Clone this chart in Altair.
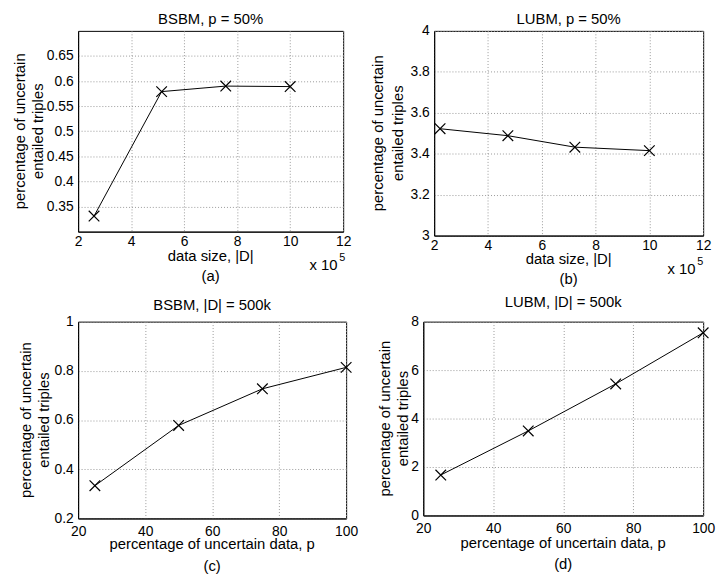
import altair as alt
import pandas as pd

# Panel (a): BSBM, p = 50%  (data size in units of 10^5)
a_x = [2.6, 5.15, 7.57, 10.0]
a_y = [0.331, 0.579, 0.590, 0.589]
# Panel (b): LUBM, p = 50%
b_x = [2.22, 4.74, 7.23, 10.0]
b_y = [3.522, 3.488, 3.432, 3.415]
# Panel (c): BSBM, |D| = 500k
c_x = [25, 50, 75, 100]
c_y = [0.333, 0.578, 0.727, 0.814]
# Panel (d): LUBM, |D| = 500k
d_x = [25, 50, 75, 100]
d_y = [1.67, 3.49, 5.43, 7.54]

FONT = "Liberation Sans"
YTITLE = ["percentage of uncertain", "entailed triples"]
XSHAPE = "M-1,-1L1,1M-1,1L1,-1"
GRID = dict(grid=True, gridColor="#9a9a9a", gridDash=[1, 2], gridWidth=1)
AX = dict(labelFont=FONT, labelFontSize=14, labelColor="black",
          domainColor="black", domainWidth=1, ticks=False,
          labelOverlap=False, format="~f", title="", **GRID)


def txt(s, x, y, size=15, angle=0, align="center"):
    return alt.Chart(pd.DataFrame({"t": [s]})).mark_text(
        font=FONT, fontSize=size, angle=angle, align=align, baseline="middle",
        color="black").encode(text="t:N", x=alt.value(x), y=alt.value(y))


def panel(xs, ys, title, xtitle, tag, xdom, xticks, ydom, yticks, w, h, toff,
          ylx, xty, tagy, xlpad, exponent=None):
    df = pd.DataFrame({"x": xs, "y": ys})
    xenc = alt.X("x:Q", scale=alt.Scale(domain=xdom, nice=False, zero=False),
                 axis=alt.Axis(values=xticks, labelFlush=False,
                               labelPadding=xlpad, **AX))
    yenc = alt.Y("y:Q", scale=alt.Scale(domain=ydom, nice=False, zero=False),
                 axis=alt.Axis(values=yticks, labelPadding=5, **AX))
    base = alt.Chart(df).encode(x=xenc, y=yenc)
    line = base.mark_line(color="black", strokeWidth=1)
    pts = base.mark_point(shape=XSHAPE, size=115, filled=False, color="black",
                          strokeWidth=1.2, opacity=1)
    layers = [line, pts,
              txt(YTITLE[0], ylx[0], h / 2, angle=270),
              txt(YTITLE[1], ylx[1], h / 2, angle=270),
              txt(xtitle, w / 2, h + xty),
              txt(tag, w / 2, h + tagy)]
    if exponent is not None:
        layers += [txt("x 10", w - exponent, h + 34, align="left"),
                   txt("5", w - exponent + 30, h + 27, size=11, align="left")]
    return alt.layer(*layers).properties(
        width=w, height=h,
        title=alt.TitleParams(title, font=FONT, fontSize=15, fontWeight="normal",
                              color="black", offset=toff, frame="group"))


pa = panel(a_x, a_y, "BSBM, p = 50%", "data size, |D|", "(a)", [2, 12],
           [2, 4, 6, 8, 10, 12], [0.3, 0.7], [0.35, 0.4, 0.45, 0.5, 0.55, 0.6, 0.65],
           268, 203, 4, (-59, -41), 25, 45, 3, exponent=34)
pb = panel(b_x, b_y, "LUBM, p = 50%", "data size, |D|", "(b)", [2, 12],
           [2, 4, 6, 8, 10, 12], [3, 4], [3, 3.2, 3.4, 3.6, 3.8, 4],
           272, 207, -3, (-57, -37), 24, 44, 3, exponent=36)
pc = panel(c_x, c_y, "BSBM, |D| = 500k", "percentage of uncertain data, p", "(c)",
           [20, 100], [20, 40, 60, 80, 100], [0.2, 1], [0.2, 0.4, 0.6, 0.8, 1],
           271, 199, 1.5, (-53, -34), 26, 48, 6)
pd_ = panel(d_x, d_y, "LUBM, |D| = 500k", "percentage of uncertain data, p", "(d)",
            [20, 100], [20, 40, 60, 80, 100], [0, 8], [0, 2, 4, 6, 8],
            283, 196, 4.5, (-39, -20), 28, 49, 6)

chart = alt.vconcat(
    alt.hconcat(pa, pb, spacing=18),
    alt.hconcat(pc, pd_, spacing=18),
    spacing=7,
).properties(
    padding={"left": 12, "top": 8, "right": 2, "bottom": 0},
    background="white",
).configure_view(
    stroke="black", strokeWidth=1
)

chart.save("out.html", embed_options={"renderer": "svg", "actions": False})
